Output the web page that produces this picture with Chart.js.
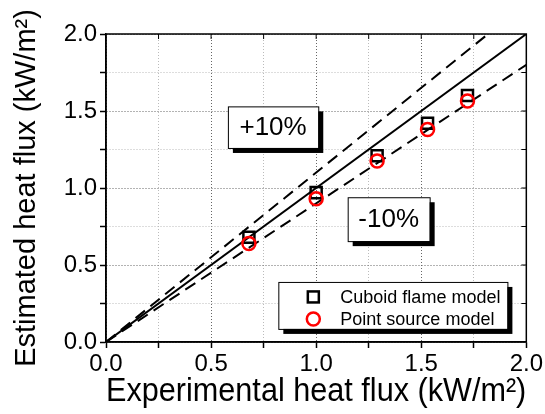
<!DOCTYPE html>
<html lang="en">
<head>
<meta charset="UTF-8" />
<title>Estimated vs experimental heat flux</title>
<script src="https://cdn.jsdelivr.net/npm/chart.js"></script>
<style>
  body { margin: 0; background: #fff; }
  canvas { display: block; }
</style>
</head>
<body>
<canvas id="myChart" width="545" height="414"></canvas>
<script>
// values (kW/m2)
const experimental = [0.68, 1.0, 1.29, 1.53, 1.72];
const cuboidModel = [0.68, 0.97, 1.21, 1.42, 1.60];
const pointSource = [0.64, 0.93, 1.175, 1.38, 1.565];
const seriesNames = ["Cuboid flame model", "Point source model"];

// reference lines: 1:1, +10% and -10%
const equalX = [0, 2];
const equalY = [0, 2];
const plusX = [0, 1.818];
const plusY = [0, 2];
const minusX = [0, 2];
const minusY = [0, 1.8];

const tickLabels = ["0.0", "0.5", "1.0", "1.5", "2.0"];

const FONT = "'Liberation Sans', Arial, sans-serif";

function pts(xs, ys) {
  return xs.map((x, i) => ({ x: x, y: ys[i] }));
}

function gridColor(c) {
  if (!c.tick) return "rgba(0,0,0,0)";
  return c.index % 2 === 0 ? "#666" : "#bbb";
}

// frame, inner ticks, the two text boxes and the legend
const extras = {
  id: "extras",
  afterDatasetsDraw(chart) {
    const { ctx, chartArea: a, scales } = chart;
    const xs = scales.x, ys = scales.y;
    ctx.save();

    // frame
    ctx.strokeStyle = "#000";
    ctx.lineWidth = 1.5;
    ctx.strokeRect(a.left, a.top, a.right - a.left, a.bottom - a.top);

    // inward ticks on top and right
    ctx.lineWidth = 1;
    for (let v = 0.25; v < 2; v += 0.25) {
      const px = xs.getPixelForValue(v);
      const py = ys.getPixelForValue(v);
      ctx.beginPath();
      ctx.moveTo(px, a.top); ctx.lineTo(px, a.top + 5);
      ctx.moveTo(a.right, py); ctx.lineTo(a.right - 5, py);
      ctx.stroke();
    }

    function box(x0, y0, x1, y1) {
      const l = xs.getPixelForValue(x0), r = xs.getPixelForValue(x1);
      const t = ys.getPixelForValue(y0), b = ys.getPixelForValue(y1);
      ctx.fillStyle = "#000";
      ctx.fillRect(l + 5, t + 5, r - l, b - t);
      ctx.fillStyle = "#fff";
      ctx.fillRect(l, t, r - l, b - t);
      ctx.strokeStyle = "#000";
      ctx.lineWidth = 1;
      ctx.strokeRect(l + 0.5, t + 0.5, r - l, b - t);
      return { l, r, t, b };
    }

    function label(text, bx) {
      ctx.fillStyle = "#000";
      ctx.font = "26px " + FONT;
      ctx.textAlign = "center";
      ctx.textBaseline = "middle";
      ctx.fillText(text, (bx.l + bx.r) / 2, (bx.t + bx.b) / 2 + 1);
    }

    label("+10%", box(0.58, 1.53, 1.01, 1.26));
    label("-10%", box(1.15, 0.94, 1.54, 0.655));

    // legend
    const lg = box(0.82, 0.39, 1.91, 0.085);
    const mx = lg.l + 35;
    const rows = [lg.t + 15, lg.t + 37];
    ctx.lineWidth = 2.5;
    ctx.strokeStyle = "#000";
    ctx.strokeRect(mx - 5.5, rows[0] - 5.5, 11, 11);
    ctx.strokeStyle = "#f00";
    ctx.beginPath();
    ctx.arc(mx, rows[1], 6.5, 0, Math.PI * 2);
    ctx.stroke();
    ctx.fillStyle = "#000";
    ctx.font = "18px " + FONT;
    ctx.textAlign = "left";
    ctx.textBaseline = "middle";
    ctx.fillText(seriesNames[0], lg.l + 62, rows[0] + 1);
    ctx.fillText(seriesNames[1], lg.l + 62, rows[1] + 1);

    ctx.restore();
  }
};

function axis(titleText, isX) {
  return {
    type: "linear",
    min: 0,
    max: 2,
    afterFit: (s) => {
      if (isX) s.height = 72;
      else s.width = 106;
    },
    ticks: {
      stepSize: 0.25,
      autoSkip: false,
      maxRotation: 0,
      padding: isX ? 2 : 3,
      color: "#000",
      font: { family: FONT, size: 24 },
      callback: (v, i) => (i % 2 === 0 ? tickLabels[i / 2] : "")
    },
    grid: {
      color: gridColor,
      lineWidth: 1,
      tickLength: 6,
      tickColor: "#000",
      tickWidth: 1.5
    },
    border: { display: true, color: "#000", width: 1.5, dash: [1, 2] },
    title: {
      display: true,
      text: titleText,
      color: "#000",
      font: { family: FONT, size: isX ? 32.5 : 29 },
      padding: isX ? { top: 0, bottom: 2 } : { top: 10, bottom: 0 }
    }
  };
}

const ctx = document.getElementById("myChart").getContext("2d");
const myChart = new Chart(ctx, {
  type: "scatter",
  data: {
    datasets: [
      {
        label: seriesNames[1],
        data: pts(experimental, pointSource),
        pointStyle: "circle",
        pointRadius: 6.5,
        borderColor: "#f00",
        backgroundColor: "rgba(0,0,0,0)",
        borderWidth: 2.5,
        order: 0
      },
      {
        label: seriesNames[0],
        data: pts(experimental, cuboidModel),
        pointStyle: "rect",
        pointRadius: 7.8,
        borderColor: "#000",
        backgroundColor: "rgba(0,0,0,0)",
        borderWidth: 2.5,
        order: 1
      },
      {
        label: "1:1",
        data: pts(equalX, equalY),
        showLine: true,
        pointRadius: 0,
        borderColor: "#000",
        borderWidth: 2,
        order: 2
      },
      {
        label: "+10%",
        data: pts(plusX, plusY),
        showLine: true,
        pointRadius: 0,
        borderColor: "#000",
        borderWidth: 2,
        borderDash: [12, 7],
        order: 3
      },
      {
        label: "-10%",
        data: pts(minusX, minusY),
        showLine: true,
        pointRadius: 0,
        borderColor: "#000",
        borderWidth: 2,
        borderDash: [12, 7],
        order: 4
      }
    ]
  },
  options: {
    responsive: false,
    animation: false,
    devicePixelRatio: 1,
    layout: { padding: { left: 0, right: 18, top: 34, bottom: 0 } },
    plugins: {
      legend: { display: false },
      tooltip: { enabled: false }
    },
    scales: {
      x: axis("Experimental heat flux (kW/m²)", true),
      y: axis("Estimated heat flux (kW/m²)", false)
    }
  },
  plugins: [extras]
});
</script>
</body>
</html>
